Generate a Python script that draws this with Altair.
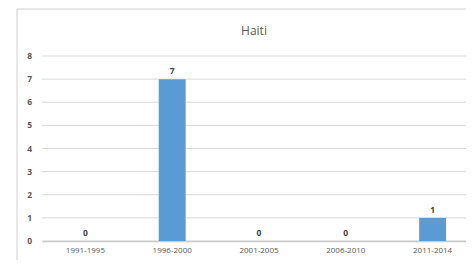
import altair as alt
import pandas as pd

periods = ["1991-1995", "1996-2000", "2001-2005", "2006-2010", "2011-2014"]
counts = [0, 7, 0, 0, 1]
y_ticks = [0, 1, 2, 3, 4, 5, 6, 7, 8]
title_text = "Haiti"

df = pd.DataFrame({"period": periods, "count": counts})
title_df = pd.DataFrame({"title": [title_text]})
grid_df = pd.DataFrame({"tick": y_ticks})

FONT = "Open Sans"

x_enc = alt.X("period:N", sort=periods,
              scale=alt.Scale(paddingInner=0.69, paddingOuter=0.345, range=[0, 434]),
              axis=alt.Axis(title=None, labelAngle=0, ticks=False, domain=True,
                            domainColor="#bfbfbf", domainWidth=1.5,
                            labelFont=FONT, labelFontSize=8, labelColor="#595959",
                            labelPadding=5, grid=False, labelOverlap=False))
y_scale = alt.Scale(domain=[0, 8], nice=False, zero=True)

# horizontal gridlines + y labels drawn from tick list
grid = alt.Chart(grid_df).mark_rule(color="#d9d9d9", strokeWidth=1).encode(
    y=alt.Y("tick:Q", scale=y_scale, axis=None),
    x=alt.value(0), x2=alt.value(440),
)
ylabels = alt.Chart(grid_df).mark_text(font=FONT, fontSize=8.5, fontWeight="bold",
                                       color="#595959", align="right",
                                       baseline="middle").encode(
    y=alt.Y("tick:Q", scale=y_scale, axis=None),
    x=alt.value(-10),
    text=alt.Text("tick:Q"),
)

bars = alt.Chart(df).mark_bar(color="#5b9bd5").encode(
    x=x_enc, y=alt.Y("count:Q", scale=y_scale, axis=None))

labels = alt.Chart(df).mark_text(dy=-8, font=FONT, fontSize=8.5, fontWeight="bold",
                                 color="#404040").encode(
    x=alt.X("period:N", sort=periods),
    y=alt.Y("count:Q", scale=y_scale, axis=None),
    text=alt.Text("count:Q"),
)

title = alt.Chart(title_df).mark_text(font=FONT, fontSize=12, color="#595959",
                                      baseline="middle").encode(
    text="title:N", x=alt.value(212), y=alt.value(-25)
)

border_left = alt.Chart(title_df).mark_rule(color="#d0d0d0", strokeWidth=1).encode(
    x=alt.value(-25), y=alt.value(-47), y2=alt.value(230)
)
border_top = alt.Chart(title_df).mark_rule(color="#d0d0d0", strokeWidth=1).encode(
    x=alt.value(-25), x2=alt.value(440), y=alt.value(-47)
)

chart = alt.layer(border_left, border_top, grid, ylabels, bars, labels, title).properties(
    width=424, height=185,
    padding={"left": 34, "top": 48, "right": 0, "bottom": 19},
    autosize=alt.AutoSizeParams(type="none"),
).configure_view(stroke=None)

chart.save("out.html", embed_options={"renderer": "svg", "actions": False})
